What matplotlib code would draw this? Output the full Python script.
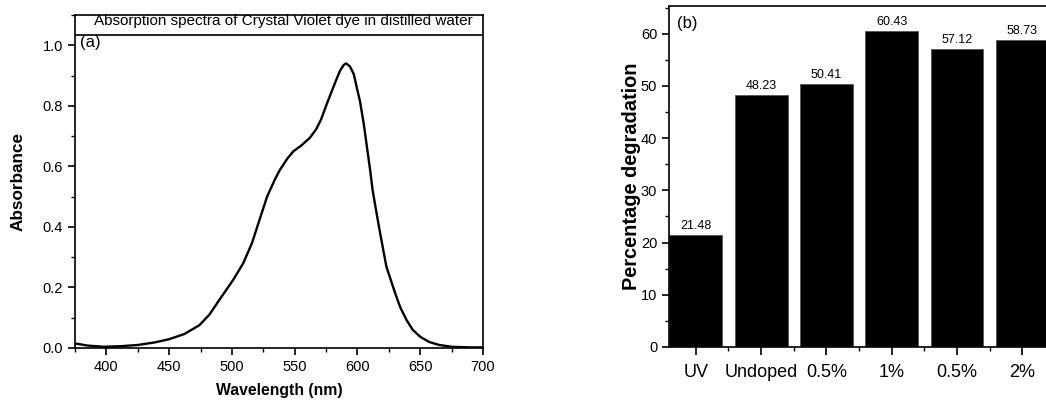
import matplotlib.pyplot as plt
from matplotlib.ticker import MultipleLocator, FixedLocator

plt.rcParams['font.family'] = ['Liberation Sans', 'DejaVu Sans']

# (a) absorption spectrum
wavelength = [375, 385, 398, 412, 425, 438, 450, 462, 474, 482, 490, 501, 509, 516,
              522, 528, 534, 538, 544, 549, 555, 562, 567, 571, 575, 579, 583, 586,
              589, 591, 594, 597, 600, 602, 605, 607, 610, 612, 615, 618, 623, 630,
              634, 639, 644, 650, 657, 665, 675, 690, 700]
absorbance = [0.015, 0.008, 0.004, 0.006, 0.010, 0.018, 0.029, 0.046, 0.075, 0.110,
              0.159, 0.225, 0.280, 0.347, 0.424, 0.500, 0.555, 0.587, 0.625, 0.650,
              0.668, 0.694, 0.722, 0.755, 0.800, 0.843, 0.885, 0.915, 0.935, 0.940,
              0.930, 0.905, 0.850, 0.815, 0.740, 0.680, 0.590, 0.523, 0.450, 0.380,
              0.269, 0.181, 0.135, 0.093, 0.060, 0.037, 0.020, 0.010, 0.004, 0.002,
              0.002]

# (b) percentage degradation
samples = ['UV', 'Undoped', '0.5%', '1%', '0.5%', '2%']
degradation = [21.48, 48.23, 50.41, 60.43, 57.12, 58.73]

fig = plt.figure(figsize=(10.46, 4.01), dpi=100)

# panel (a)
ax1 = fig.add_axes([0.0717, 0.1322, 0.3901, 0.8304])
ax1.plot(wavelength, absorbance, color='black', lw=1.7)
ax1.set_xlim(375, 700)
ax1.set_ylim(0, 1.1)
ax1.set_yticks([0.0, 0.2, 0.4, 0.6, 0.8, 1.0])
ax1.set_xticks([400, 450, 500, 550, 600, 650, 700])
ax1.xaxis.set_minor_locator(MultipleLocator(25))
ax1.yaxis.set_minor_locator(MultipleLocator(0.1))
ax1.axhline(1.033, color='black', lw=1.2)
ax1.text(0.51, 0.981, 'Absorption spectra of Crystal Violet dye in distilled water',
         transform=ax1.transAxes, ha='center', va='center', fontsize=11)
ax1.text(0.012, 0.905, '(a)', transform=ax1.transAxes, fontsize=12)
ax1.set_xlabel('Wavelength (nm)', fontsize=11.3, fontweight='bold')
ax1.set_ylabel('Absorbance', fontsize=12.3, fontweight='bold')
ax1.xaxis.set_label_coords(0.5, -0.105)
ax1.yaxis.set_label_coords(-0.122, 0.5)

# panel (b)
ax2 = fig.add_axes([0.6396, 0.1347, 0.3633, 0.8504])
pos = list(range(len(samples)))
ax2.bar(pos, degradation, width=0.81, color='black', edgecolor='#555555', lw=0.6)
for p, v in zip(pos, degradation):
    ax2.text(p, v + 0.6, f'{v:.2f}', ha='center', va='bottom', fontsize=9)
ax2.set_xlim(-0.41, 5.41)
ax2.set_ylim(0, 65.3)
ax2.set_xticks(pos)
ax2.set_xticklabels(samples, fontsize=13)
ax2.xaxis.set_minor_locator(FixedLocator([0.5, 1.5, 2.5, 3.5, 4.5]))
ax2.set_yticks([0, 10, 20, 30, 40, 50, 60])
ax2.yaxis.set_minor_locator(MultipleLocator(5))
ax2.set_ylabel('Percentage degradation', fontsize=14.4, fontweight='bold')
ax2.yaxis.set_label_coords(-0.075, 0.5)
ax2.text(0.02, 0.935, '(b)', transform=ax2.transAxes, fontsize=12)

for ax in (ax1, ax2):
    for s in ax.spines.values():
        s.set_linewidth(1.2)
    ax.tick_params(which='major', direction='out', length=5, width=1.2, labelsize=10.5)
    ax.tick_params(which='minor', direction='out', length=3, width=1.0)
ax2.tick_params(axis='x', which='major', length=6, labelsize=13, pad=6)

fig.savefig('out.png', dpi=100)
